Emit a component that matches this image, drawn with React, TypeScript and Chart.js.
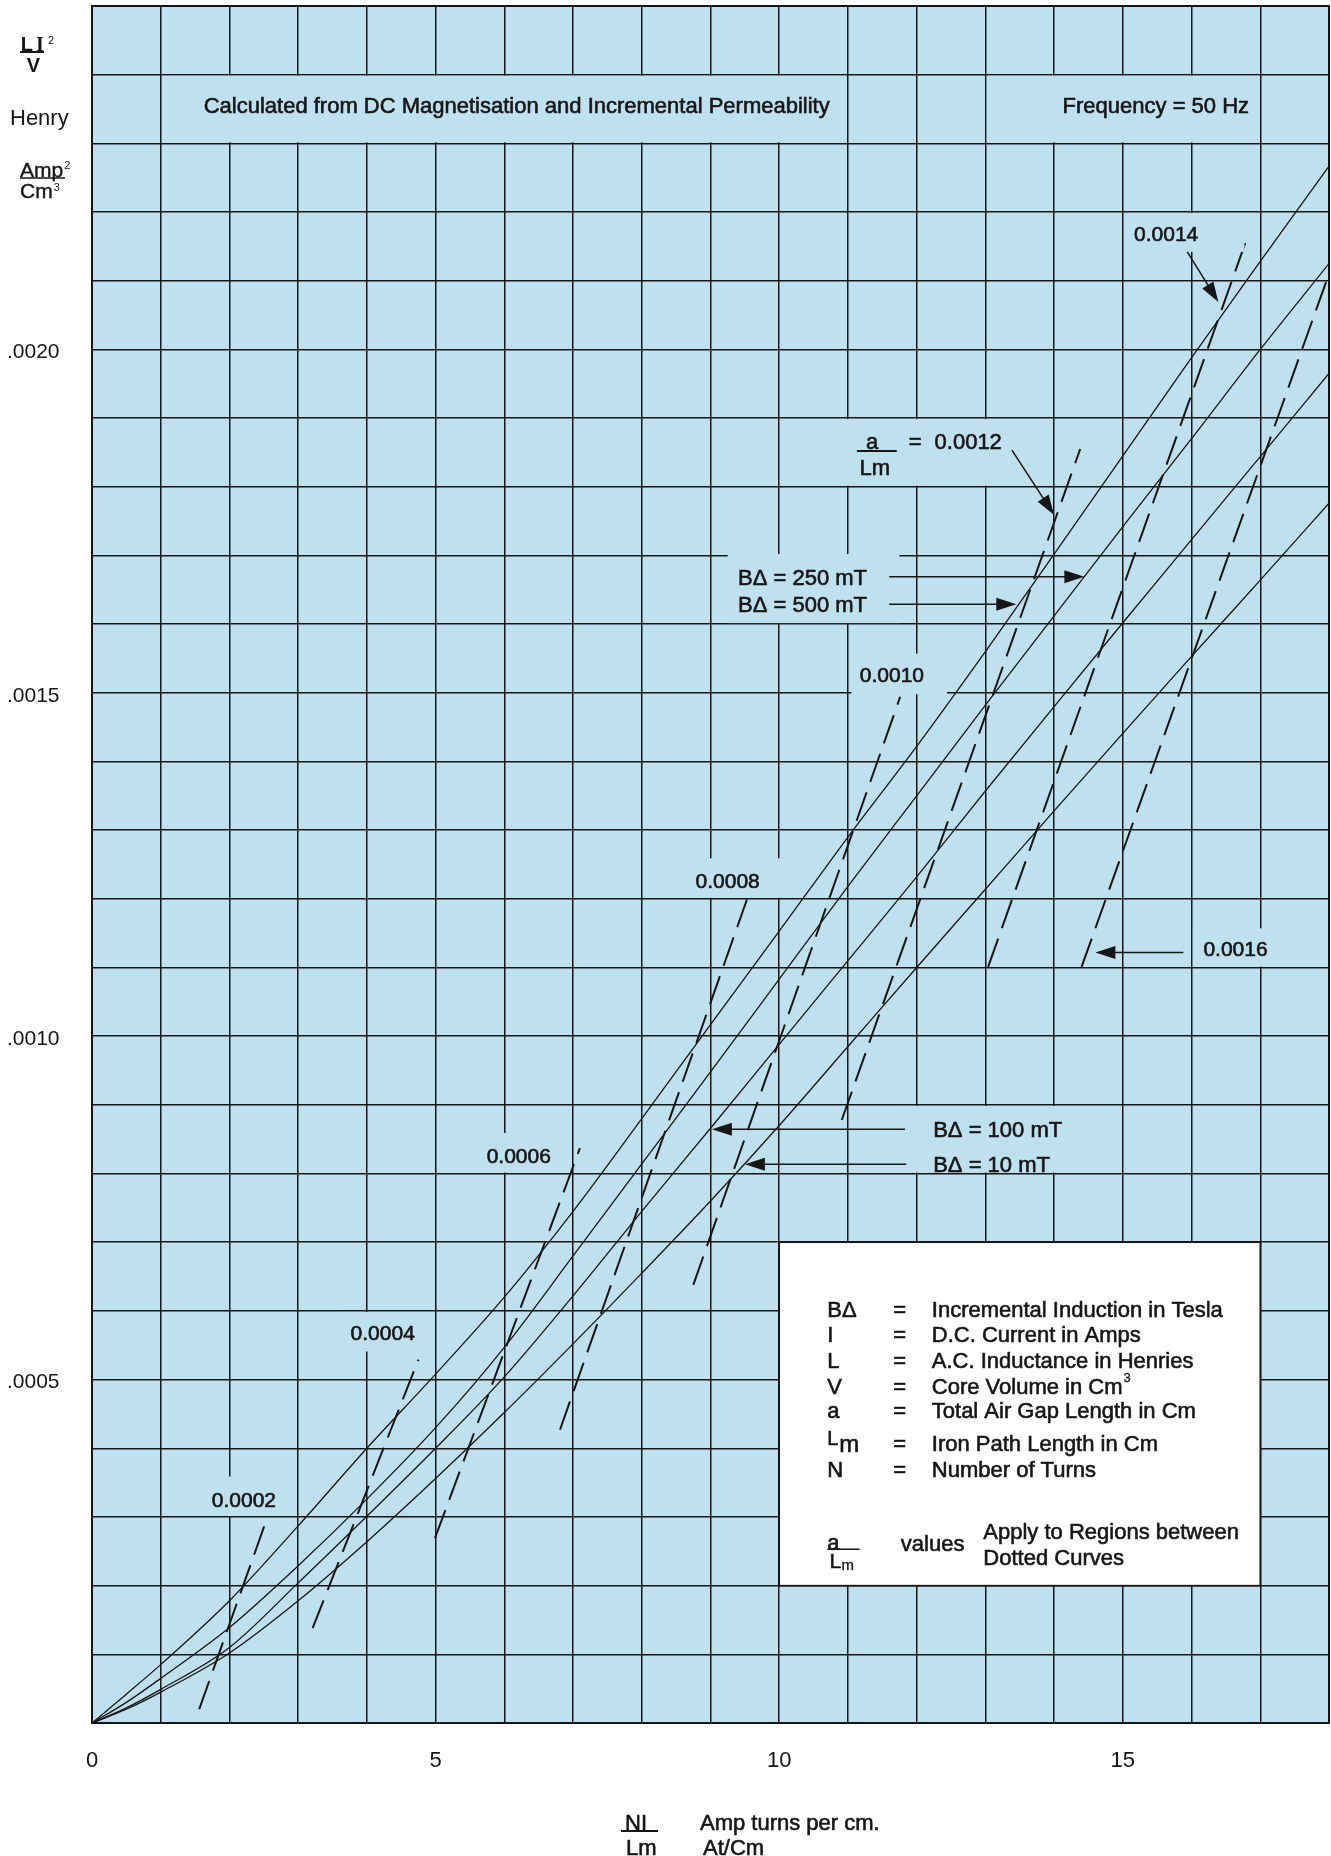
import React, { useEffect, useRef } from 'react';
import { Chart, registerables } from 'chart.js';

Chart.register(...registerables);

const FONT = '"Liberation Sans", Arial, Helvetica, sans-serif';
const SERIF = '"Liberation Serif", "Times New Roman", serif';
const INK = '#161616';
const PAPER = '#bfe0ef';
const U = 1e-4; // one horizontal grid step of LI²/V
const WEIGHT = 0.6; // extra stroke that gives the captions a medium weight

// Magnetising force NI/Lm (At/cm) at which the induction curves are sampled
const ampTurnsPerCm = [0, 0.5, 1, 2, 3, 4, 5, 6, 7, 8, 9, 10, 11, 12, 13, 14, 15, 16, 17, 18];

// LI²/V (H·A²/cm³) for each incremental induction BΔ
const li2v500mT = [0, 0.000042, 0.000085, 0.000178, 0.000287, 0.0004, 0.000508, 0.00062, 0.000745, 0.00088, 0.001017, 0.001153, 0.00129, 0.001422, 0.00156, 0.001702, 0.001845, 0.001988, 0.002128, 0.002267];
const li2v250mT = [0, 0.00003, 0.000065, 0.000139, 0.000229, 0.000326, 0.00043, 0.000547, 0.00068, 0.000814, 0.000948, 0.001083, 0.001218, 0.00135, 0.001482, 0.001612, 0.001742, 0.00187, 0.002, 0.002125];
const li2v100mT = [0, 0.000022, 0.000049, 0.00011, 0.000204, 0.000301, 0.0004, 0.000504, 0.000622, 0.000745, 0.000866, 0.000988, 0.00111, 0.001232, 0.001357, 0.00148, 0.001602, 0.001723, 0.001844, 0.001965];
const li2v10mT = [0, 0.00002, 0.000045, 0.000102, 0.000178, 0.000264, 0.000356, 0.000452, 0.000552, 0.000655, 0.00076, 0.00087, 0.000985, 0.0011, 0.001214, 0.001328, 0.001441, 0.001553, 0.001664, 0.001776];

// a/Lm boundaries (dashed): each runs from a lower to an upper end point
const gapRatioLabels = ['0.0002', '0.0004', '0.0006', '0.0008', '0.0010', '0.0012', '0.0014', '0.0016'];
const gapFromNI = [1.56, 3.21, 4.99, 6.81, 8.75, 10.91, 13.04, 14.4];
const gapFromLI2V = [0.00002, 0.000138, 0.000269, 0.000427, 0.000638, 0.000878, 0.001101, 0.001101];
const gapToNI = [2.54, 4.75, 7.1, 9.53, 11.76, 14.38, 16.8, 18.0];
const gapToLI2V = [0.000296, 0.000529, 0.000837, 0.001199, 0.001494, 0.001855, 0.00216, 0.00211];

// Axis tick text
const xLabelEvery = 5;
const yLabelEvery = 5; // in grid steps

// Legend glossary
const glossarySymbols = ['BΔ', 'I', 'L', 'V', 'a', 'Lm', 'N'];
const glossaryMeanings = [
  'Incremental Induction in Tesla',
  'D.C. Current in Amps',
  'A.C. Inductance in Henries',
  'Core Volume in Cm',
  'Total Air Gap Length in Cm',
  'Iron Path Length in Cm',
  'Number of Turns',
];

type Box = [number, number, number, number]; // x0, x1, u0, u1 (u in grid steps)
type Line = { text: string; x: number; u: number; align?: CanvasTextAlign; size?: number };
type Note = { box?: Box; lines: Line[] };

// Captions laid over the grid; boxes mask the grid behind them
const notes: Note[] = [
  { box: [1.02, 10.98, 23.015, 23.985], lines: [{ text: 'Calculated from DC Magnetisation and Incremental Permeability', x: 6.18, u: 23.56 }] },
  { box: [13.02, 16.98, 23.015, 23.985], lines: [{ text: 'Frequency = 50 Hz', x: 15.48, u: 23.55 }] },
  { box: [1.6, 2.8, 3.015, 3.59], lines: [{ text: gapRatioLabels[0], x: 2.21, u: 3.26, size: 21 }] },
  { box: [3.61, 4.99, 5.41, 5.985], lines: [{ text: gapRatioLabels[1], x: 4.23, u: 5.68, size: 21 }] },
  { box: [5.65, 6.85, 8.015, 8.59], lines: [{ text: gapRatioLabels[2], x: 6.21, u: 8.27, size: 21 }] },
  { box: [8.7, 10.05, 12.015, 12.59], lines: [{ text: gapRatioLabels[3], x: 9.25, u: 12.27, size: 21 }] },
  { box: [11.05, 12.44, 14.98, 15.57], lines: [{ text: gapRatioLabels[4], x: 11.64, u: 15.26, size: 21 }] },
  { box: [15.02, 16.77, 21.42, 21.985], lines: [{ text: gapRatioLabels[6], x: 15.63, u: 21.69, size: 21 }] },
  { box: [16.02, 17.4, 11.015, 11.57], lines: [{ text: gapRatioLabels[7], x: 16.64, u: 11.27, size: 21 }] },
  {
    box: [10.5, 13.6, 18.015, 18.985],
    lines: [
      { text: 'a', x: 11.35, u: 18.66 },
      { text: 'Lm', x: 11.39, u: 18.29 },
      { text: '=', x: 11.98, u: 18.66 },
      { text: gapRatioLabels[5], x: 12.75, u: 18.66 },
    ],
  },
  {
    box: [9.25, 11.75, 16.015, 17.02],
    lines: [
      { text: 'BΔ = 250 mT', x: 9.4, u: 16.69, align: 'left' },
      { text: 'BΔ = 500 mT', x: 9.4, u: 16.29, align: 'left' },
    ],
  },
  {
    box: [11.8, 14.95, 8.015, 8.985],
    lines: [
      { text: 'BΔ = 100 mT', x: 12.24, u: 8.646, align: 'left' },
      { text: 'BΔ = 10 mT', x: 12.24, u: 8.137, align: 'left' },
    ],
  },
];

// Pointer arrows: [x0, u0, x1, u1]
const pointers: [number, number, number, number][] = [
  [13.386, 18.534, 14.0, 17.59],
  [15.938, 21.42, 16.39, 20.69],
  [11.6, 16.69, 14.44, 16.69],
  [11.6, 16.29, 13.45, 16.29],
  [11.83, 8.646, 9.02, 8.646],
  [11.85, 8.137, 9.5, 8.137],
  [15.88, 11.217, 14.6, 11.217],
];

const glossaryBox: Box = [10, 17, 2, 7];

function drawText(
  ctx: CanvasRenderingContext2D,
  text: string,
  x: number,
  yMid: number,
  size = 22,
  align: CanvasTextAlign = 'left',
  font = FONT,
  weight = 'normal',
  bold = WEIGHT,
) {
  ctx.font = `${weight} ${size}px ${font}`;
  ctx.textAlign = align;
  ctx.textBaseline = 'alphabetic';
  const y = yMid + 0.358 * size;
  ctx.fillText(text, x, y);
  if (bold > 0) {
    ctx.lineWidth = bold;
    ctx.lineJoin = 'round';
    ctx.strokeText(text, x, y);
  }
  return ctx.measureText(text).width;
}

function drawArrow(ctx: CanvasRenderingContext2D, x0: number, y0: number, x1: number, y1: number) {
  const ang = Math.atan2(y1 - y0, x1 - x0);
  const len = 20;
  const half = 6.5;
  const bx = x1 - len * Math.cos(ang);
  const by = y1 - len * Math.sin(ang);
  ctx.lineWidth = 1.5;
  ctx.beginPath();
  ctx.moveTo(x0, y0);
  ctx.lineTo(bx + 2 * Math.cos(ang), by + 2 * Math.sin(ang));
  ctx.stroke();
  ctx.beginPath();
  ctx.moveTo(x1, y1);
  ctx.lineTo(bx - half * Math.sin(ang), by + half * Math.cos(ang));
  ctx.lineTo(bx + half * Math.sin(ang), by - half * Math.cos(ang));
  ctx.closePath();
  ctx.fill();
}

const overlay = {
  id: 'hannaOverlay',
  beforeDraw(chart: any) {
    const { ctx, chartArea: a } = chart;
    ctx.save();
    ctx.fillStyle = '#ffffff';
    ctx.fillRect(0, 0, chart.width, chart.height);
    ctx.fillStyle = PAPER;
    ctx.fillRect(a.left, a.top, a.right - a.left, a.bottom - a.top);
    ctx.restore();
  },
  beforeDatasetsDraw(chart: any) {
    const { ctx, scales } = chart;
    const X = (v: number) => scales.x.getPixelForValue(v);
    const Y = (u: number) => scales.y.getPixelForValue(u * U);
    const [x0, x1, u0, u1] = glossaryBox;
    ctx.save();
    ctx.fillStyle = '#ffffff';
    ctx.fillRect(X(x0), Y(u1), X(x1) - X(x0), Y(u0) - Y(u1));
    ctx.strokeStyle = INK;
    ctx.lineWidth = 1.6;
    ctx.strokeRect(X(x0), Y(u1), X(x1) - X(x0), Y(u0) - Y(u1));
    ctx.restore();
  },
  afterDatasetsDraw(chart: any) {
    const { ctx, scales, chartArea: a } = chart;
    const X = (v: number) => scales.x.getPixelForValue(v);
    const Y = (u: number) => scales.y.getPixelForValue(u * U);
    ctx.save();
    ctx.fillStyle = INK;
    ctx.strokeStyle = INK;

    // caption boxes and their text
    notes.forEach((n) => {
      if (n.box) {
        const [x0, x1, u0, u1] = n.box;
        ctx.fillStyle = PAPER;
        ctx.fillRect(X(x0), Y(u1), X(x1) - X(x0), Y(u0) - Y(u1));
      }
      ctx.fillStyle = INK;
      n.lines.forEach((l) => drawText(ctx, l.text, X(l.x), Y(l.u), l.size ?? 22, l.align ?? 'center'));
    });
    // fraction bar of a/Lm
    ctx.lineWidth = 2;
    ctx.beginPath();
    ctx.moveTo(X(11.13), Y(18.52));
    ctx.lineTo(X(11.71), Y(18.52));
    ctx.stroke();

    pointers.forEach(([x0, u0, x1, u1]) => drawArrow(ctx, X(x0), Y(u0), X(x1), Y(u1)));

    // glossary
    const xSym = X(10.7);
    const xEq = X(11.66);
    const xDesc = X(12.22);
    const rowsU = [6.03, 5.66, 5.29, 4.91, 4.55, 4.08, 3.69];
    glossarySymbols.forEach((s, i) => {
      const y = Y(rowsU[i]);
      if (s === 'Lm') {
        drawText(ctx, 'L', xSym, y - 5, 20);
        drawText(ctx, 'm', xSym + 12, y + 1, 24);
      } else {
        drawText(ctx, s, xSym, y, 22);
      }
      drawText(ctx, '=', xEq, y, 22);
      const w = drawText(ctx, glossaryMeanings[i], xDesc, y, 22);
      if (i === 3) drawText(ctx, '3', xDesc + w + 1, y - 8, 13, 'left', FONT, 'normal', 0.3);
    });
    // a / Lm  values  Apply to ...
    drawText(ctx, 'a', X(10.7), Y(2.64), 22);
    ctx.lineWidth = 1.6;
    ctx.beginPath();
    ctx.moveTo(X(10.7), Y(2.53));
    ctx.lineTo(X(11.17), Y(2.53));
    ctx.stroke();
    drawText(ctx, 'L', X(10.73), Y(2.36), 21);
    drawText(ctx, 'm', X(10.73) + 12, Y(2.3), 15, 'left', FONT, 'normal', 0.3);
    drawText(ctx, 'values', X(11.77), Y(2.62), 22);
    drawText(ctx, 'Apply to Regions between', X(12.97), Y(2.79), 22);
    drawText(ctx, 'Dotted Curves', X(12.97), Y(2.41), 22);

    // frame
    ctx.lineWidth = 2;
    ctx.strokeRect(a.left, a.top, a.right - a.left, a.bottom - a.top);
    ctx.restore();
  },
  afterDraw(chart: any) {
    const { ctx } = chart;
    ctx.save();
    ctx.fillStyle = INK;
    ctx.strokeStyle = INK;
    // y-axis quantity
    drawText(ctx, 'L', 20.7, 43.7, 20, 'left', FONT, 'bold', 0);
    drawText(ctx, 'I', 40, 43.7, 20, 'center', SERIF, 'bold', 0);
    drawText(ctx, '2', 48, 40, 11, 'left', FONT, 'normal', 0);
    ctx.lineWidth = 2;
    ctx.beginPath();
    ctx.moveTo(20, 52);
    ctx.lineTo(44, 52);
    ctx.stroke();
    drawText(ctx, 'V', 33.3, 65, 20, 'center', FONT, 'bold', 0);
    drawText(ctx, 'Henry', 10, 117, 22, 'left', FONT, 'normal', 0);
    const wa = drawText(ctx, 'Amp', 20, 169, 21, 'left', FONT, 'normal', 0.4);
    drawText(ctx, '2', 20 + wa + 1, 165, 11, 'left', FONT, 'normal', 0);
    ctx.lineWidth = 1.6;
    ctx.beginPath();
    ctx.moveTo(20, 178);
    ctx.lineTo(65, 178);
    ctx.stroke();
    const wc = drawText(ctx, 'Cm', 20, 190.7, 21, 'left', FONT, 'normal', 0.4);
    drawText(ctx, '3', 20 + wc + 1, 187, 11, 'left', FONT, 'normal', 0);

    // x-axis quantity
    drawText(ctx, 'NI', 625, 1821.7, 22);
    ctx.lineWidth = 1.8;
    ctx.beginPath();
    ctx.moveTo(621, 1831);
    ctx.lineTo(658, 1831);
    ctx.stroke();
    drawText(ctx, 'Lm', 626, 1847, 22);
    drawText(ctx, 'Amp turns per cm.', 700, 1821.7, 22);
    drawText(ctx, 'At/Cm', 703, 1847, 22);
    ctx.restore();
  },
};

export default function App() {
  const ref = useRef<HTMLCanvasElement | null>(null);

  useEffect(() => {
    if (!ref.current) return;
    const toPoints = (ys: number[]) => ampTurnsPerCm.map((x, i) => ({ x, y: ys[i] }));
    const solid = (label: string, ys: number[]) => ({
      label,
      data: toPoints(ys),
      showLine: true,
      borderColor: INK,
      borderWidth: 1.3,
      pointRadius: 0,
      cubicInterpolationMode: 'monotone' as const,
      fill: false,
    });
    const dashed = gapRatioLabels.map((lab, i) => ({
      label: `a/Lm = ${lab}`,
      data: [
        { x: gapFromNI[i], y: gapFromLI2V[i] },
        { x: gapToNI[i], y: gapToLI2V[i] },
      ],
      showLine: true,
      borderColor: INK,
      borderWidth: 2,
      borderDash: [30, 11],
      pointRadius: 0,
      fill: false,
    }));

    const chart = new Chart(ref.current, {
      type: 'scatter',
      data: {
        datasets: [
          solid('BΔ = 500 mT', li2v500mT),
          solid('BΔ = 250 mT', li2v250mT),
          solid('BΔ = 100 mT', li2v100mT),
          solid('BΔ = 10 mT', li2v10mT),
          ...dashed,
        ],
      },
      options: {
        responsive: false,
        animation: false,
        events: [],
        layout: { padding: { left: 7, right: 2, top: 6, bottom: 0 } },
        plugins: { legend: { display: false }, tooltip: { enabled: false } },
        scales: {
          x: {
            type: 'linear',
            min: 0,
            max: 18,
            ticks: {
              stepSize: 1,
              autoSkip: false,
              maxRotation: 0,
              padding: 25,
              color: INK,
              font: { family: FONT, size: 22 },
              callback: (v: any) => {
                const n = Math.round(Number(v));
                return n % xLabelEvery === 0 && n < 18 ? String(n) : '';
              },
            },
            grid: { color: INK, lineWidth: 1.5, drawTicks: false },
            border: { color: INK, width: 2 },
            afterFit: (s: any) => {
              s.height = 133;
              s.paddingLeft = 0;
              s.paddingRight = 0;
            },
          },
          y: {
            type: 'linear',
            min: 0,
            max: 0.0025,
            ticks: {
              stepSize: 0.0001,
              autoSkip: false,
              crossAlign: 'far',
              padding: 0,
              labelOffset: 3,
              color: INK,
              font: { family: FONT, size: 21 },
              callback: (v: any) => {
                const n = Math.round(Number(v) / U);
                return n > 0 && n < 25 && n % yLabelEvery === 0 ? (n * U).toFixed(4).slice(1) : '';
              },
            },
            grid: { color: INK, lineWidth: 1.5, drawTicks: false },
            border: { color: INK, width: 2 },
            afterFit: (s: any) => {
              s.width = 85;
              s.paddingTop = 0;
              s.paddingBottom = 0;
            },
          },
        },
      } as any,
      plugins: [overlay],
    });
    return () => chart.destroy();
  }, []);

  return (
    <div style={{ position: 'absolute', left: 0, top: 0, width: 1331, height: 1856, background: '#fff' }}>
      <canvas ref={ref} width={1331} height={1856} style={{ display: 'block', width: 1331, height: 1856 }} />
    </div>
  );
}
